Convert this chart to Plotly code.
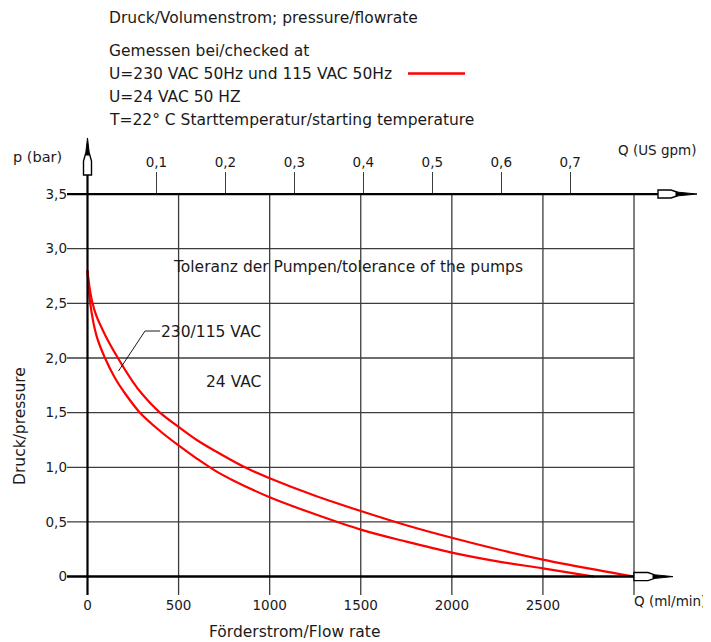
import plotly.graph_objects as go

# ---------------- data ----------------
q_230 = [0, 10, 25, 50, 100, 167, 250, 300, 398, 500, 600, 700, 864, 1000,
         1250, 1500, 1750, 2000, 2250, 2500, 2750, 3000]
p_230 = [2.80, 2.66, 2.52, 2.38, 2.20, 2.00, 1.78, 1.67, 1.50, 1.37, 1.25, 1.15, 1.00, 0.90,
         0.74, 0.60, 0.47, 0.355, 0.25, 0.156, 0.075, 0.0]
q_24 = [0, 15, 50, 96, 150, 200, 288, 400, 500, 600, 700, 800, 1000,
        1250, 1500, 1750, 2000, 2250, 2500, 2780]
p_24 = [2.80, 2.50, 2.20, 2.00, 1.82, 1.69, 1.50, 1.33, 1.20, 1.08, 0.97, 0.88, 0.726,
        0.57, 0.43, 0.32, 0.22, 0.14, 0.075, 0.0]

x_ticks = [0, 500, 1000, 1500, 2000, 2500]
x_ticktext = ["0", "500", "1000", "1500", "2000", "2500"]
x_grid = [500, 1000, 1500, 2000, 2500, 3000]
y_ticks = [0, 0.5, 1.0, 1.5, 2.0, 2.5, 3.0, 3.5]
y_ticktext = ["0", "0,5", "1,0", "1,5", "2,0", "2,5", "3,0", "3,5"]
y_grid = [0.5, 1.0, 1.5, 2.0, 2.5, 3.0]
gpm_ticks = [0.1, 0.2, 0.3, 0.4, 0.5, 0.6, 0.7]
gpm_ticktext = ["0,1", "0,2", "0,3", "0,4", "0,5", "0,6", "0,7"]
ML_PER_GPM = 3785.41
Q_MAX = 3000
P_MAX = 3.5

# ---------------- layout geometry (window pixels) ----------------
WIN_W, WIN_H = 711, 642
OFF = 8                                  # page body margin
L, R, T, B = 40, 705, 135, 600           # plot area in window pixels
PX0, KX = 87.5, 0.18217                  # pixel of Q=0, px per ml/min
PY0, KY = 576.6, 109.3                   # pixel of p=0, px per bar

def qx(px):
    return (px - PX0) / KX

def pyv(py):
    return (PY0 - py) / KY

def fx(px):
    return (px - L) / (R - L)

def fy(py):
    return (B - py) / (B - T)

xr = [qx(L), qx(R)]
yr = [pyv(B), pyv(T)]

FONT = "DejaVu Sans, sans-serif"
TXT = "#1a1a1a"
RED = "#ff0000"
GRID = "#3c3c3c"

fig = go.Figure()
fig.add_trace(go.Scatter(x=q_230, y=p_230, mode="lines", name="230/115 VAC",
                         line=dict(color=RED, width=2.2, shape="spline", smoothing=1.0),
                         showlegend=False, hoverinfo="skip"))
fig.add_trace(go.Scatter(x=q_24, y=p_24, mode="lines", name="24 VAC",
                         line=dict(color=RED, width=2.2, shape="spline", smoothing=1.0),
                         showlegend=False, hoverinfo="skip"))
# invisible trace carrying the US gpm scale
fig.add_trace(go.Scatter(x=[q / ML_PER_GPM for q in q_230], y=p_230, xaxis="x2",
                         mode="lines", opacity=0, showlegend=False, hoverinfo="skip"))

shapes = []
for p in y_grid:
    shapes.append(dict(type="line", xref="x", yref="y", x0=qx(67), x1=Q_MAX, y0=p, y1=p,
                       line=dict(color=GRID, width=1.3), layer="below"))
for q in x_grid:
    shapes.append(dict(type="line", xref="x", yref="y", x0=q, x1=q, y0=pyv(595), y1=P_MAX,
                       line=dict(color=GRID, width=1.3), layer="below"))
# main axes
shapes.append(dict(type="line", xref="x", yref="y", x0=0, x1=0, y0=pyv(595), y1=pyv(150),
                   line=dict(color="black", width=2.2)))
shapes.append(dict(type="line", xref="x", yref="y", x0=qx(67), x1=qx(660), y0=P_MAX, y1=P_MAX,
                   line=dict(color="black", width=2.2)))
shapes.append(dict(type="line", xref="x", yref="y", x0=qx(67), x1=Q_MAX, y0=0, y1=0,
                   line=dict(color="black", width=2.5)))

def path(points):
    return "M " + " L ".join(f"{qx(a):.3f},{pyv(b):.3f}" for a, b in points) + " Z"

cx = PX0
top_hollow = [(cx - 4, 175), (cx - 4, 161), (cx - 2, 154), (cx + 2, 154), (cx + 4, 161), (cx + 4, 175)]
top_fill = [(cx - 2, 155), (cx, 138), (cx + 2, 155)]
ya = 194
right_hollow = [(658, ya - 4), (671, ya - 4), (677, ya - 2), (677, ya + 2), (671, ya + 4), (658, ya + 4)]
right_fill = [(676, ya - 2), (697, ya), (676, ya + 2)]
yb = PY0
bot_hollow = [(634, yb - 4), (648, yb - 4), (654, yb - 2), (654, yb + 2), (648, yb + 4), (634, yb + 4)]
bot_fill = [(653, yb - 2), (673, yb), (653, yb + 2)]
for pts in (top_hollow, right_hollow, bot_hollow):
    shapes.append(dict(type="path", xref="x", yref="y", path=path(pts),
                       fillcolor="white", line=dict(color="black", width=1.4)))
for pts in (top_fill, right_fill, bot_fill):
    shapes.append(dict(type="path", xref="x", yref="y", path=path(pts),
                       fillcolor="black", line=dict(color="black", width=1)))

# leader line for the 230/115 VAC label
shapes.append(dict(type="path", xref="paper", yref="paper",
                   path=f"M {fx(118.5)},{fy(371)} L {fx(145)},{fy(331)} L {fx(160)},{fy(331)}",
                   line=dict(color="black", width=0.9)))
# legend sample line
shapes.append(dict(type="line", xref="paper", yref="paper", x0=fx(408), x1=fx(465),
                   y0=fy(73.5), y1=fy(73.5), line=dict(color=RED, width=2.5)))

ann = []
def text(s, px, py, size=15.5, anchor="left", angle=0):
    ann.append(dict(text=s, xref="paper", yref="paper", x=fx(px), y=fy(py),
                    xanchor=anchor, yanchor="middle", showarrow=False, textangle=angle,
                    font=dict(family=FONT, size=size, color=TXT)))

text("Druck/Volumenstrom; pressure/flowrate", 107, 18)
text("Gemessen bei/checked at", 107, 51)
text("U=230 VAC 50Hz und 115 VAC 50Hz", 107, 74)
text("U=24 VAC 50 HZ", 107, 97)
text("T=22° C Starttemperatur/starting temperature", 107, 120)
text("p (bar)", 11, 157, size=14.5)
text("Q (US gpm)", 698, 150, size=13.5, anchor="right")
text("Q (ml/min)", 708, 601, size=13.5, anchor="right")
text("Förderstrom/Flow rate", 294, 632, anchor="center", size=15.5)
text("Druck/pressure", 20, 426, anchor="center", angle=-90, size=15.5)
text("Toleranz der Pumpen/tolerance of the pumps", 171, 267)
text("230/115 VAC", 159, 332)
text("24 VAC", 204, 382)

tickfont = dict(family=FONT, size=13.5, color=TXT)
fig.update_layout(
    width=WIN_W - OFF, height=WIN_H - OFF,
    margin=dict(l=L - OFF, r=WIN_W - R, t=T - OFF, b=WIN_H - B, pad=0),
    paper_bgcolor="white", plot_bgcolor="white",
    shapes=shapes, annotations=ann,
    xaxis=dict(range=xr, showgrid=False, zeroline=False, showline=False,
               tickvals=x_ticks, ticktext=x_ticktext, ticks="", tickfont=tickfont,
               anchor="free", position=fy(595)),
    xaxis2=dict(range=[v / ML_PER_GPM for v in xr], overlaying="x", side="top",
                anchor="free", position=fy(194), showgrid=False, zeroline=False,
                showline=False, tickvals=gpm_ticks, ticktext=gpm_ticktext,
                ticks="outside", ticklen=22, tickwidth=1.2, tickcolor=GRID, tickfont=tickfont),
    yaxis=dict(range=yr, showgrid=False, zeroline=False, showline=False,
               tickvals=y_ticks, ticktext=y_ticktext, ticks="", tickfont=tickfont,
               anchor="free", position=fx(67)),
)

fig.write_html("out.html")
